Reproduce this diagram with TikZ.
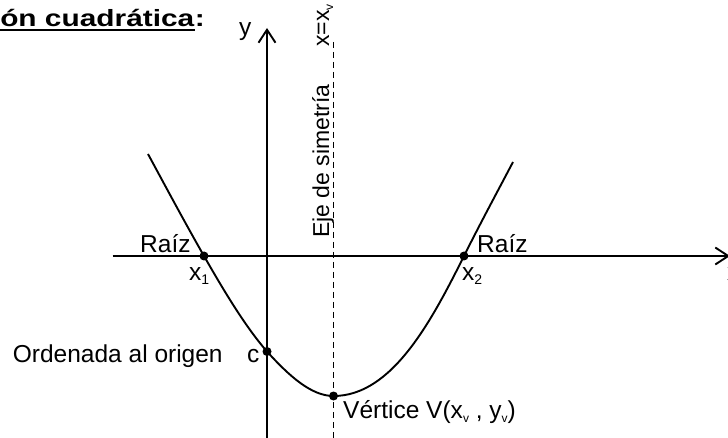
\documentclass[tikz,border=0pt]{standalone}
\usepackage{fontspec}
\setmainfont{Liberation Sans}
\usetikzlibrary{arrows.meta}
\newcommand{\subsc}[2][14]{\raisebox{-4pt}{\fontsize{#1}{#1}\selectfont #2}}
\begin{document}
\begin{tikzpicture}[x=1pt,y=-1pt,
  lbl/.style={inner sep=0pt, anchor=base west, font=\fontsize{24.5}{28}\selectfont},
  axisline/.style={line width=1.9pt, -{Straight Barb[length=13pt,width=17pt,line width=1.9pt]}},
  dot/.style={circle, fill=black, inner sep=0pt, minimum size=9pt},
  curveline/.style={line width=1.9pt},
  symline/.style={line width=1.5pt, dash pattern=on 6pt off 4pt},
]
\useasboundingbox (0,0) rectangle (728,438);

% title
\node[lbl, font=\bfseries\fontsize{23.5}{27}\selectfont, xscale=1.27] (title) at (0,26.5) {ón cuadrática};
\node[lbl, font=\bfseries\fontsize{23.5}{27}\selectfont, xscale=1.27] (colon) at (title.base east) {:};
\draw[line width=2.2pt] ([yshift=-3.2pt]title.base west) -- ([yshift=-3.2pt]title.base east);

% points of the parabola
\coordinate (p0) at (148,154);
\coordinate (p6) at (513,162);

% parabola
\draw[curveline] (p0)
  .. controls (166.7,188.6) and (185.3,223.3) .. (204,256)
  .. controls (225,292.8) and (246,327.4) .. (267,351.5)
  .. controls (289.2,376) and (311.3,396) .. (333.5,396)
  .. controls (392,396) and (431.4,321.2) .. (464,256)
  .. controls (480.3,223.3) and (496.7,193) .. (p6);

% axes
\coordinate (xl) at (112.7,256);
\coordinate (xr) at (730,256);
\draw[axisline] (xl) -- (xr);
\coordinate (yb) at (267,438);
\coordinate (yt) at (267,28);
\draw[axisline] (yb) -- (yt);

% symmetry axis
\coordinate (dt) at (333.5,42);
\coordinate (db) at (333.5,438);
\draw[symline] (dt) -- (db);

% dots
\node[dot] (r1) at (204,256) {};
\node[dot] (r2) at (464,256) {};
\node[dot] (cpt) at (267,351.5) {};
\node[dot] (vpt) at (333.5,396) {};

% labels
\node[lbl] (ylab) at (239,36) {y};
\node[lbl, rotate=90, font=\fontsize{23}{27}\selectfont] (eje) at (329,238) {Eje de simetría};
\node[lbl, rotate=90, font=\fontsize{23}{27}\selectfont] (xeq) at (329,47) {x=x\subsc[12]{v}};
\node[lbl] (raiz1) at (140,252.7) {Raíz};
\node[lbl] (x1lab) at (189,280) {x\subsc{1}};
\node[lbl] (raiz2) at (477,252.7) {Raíz};
\node[lbl] (x2lab) at (462,280) {x\subsc{2}};
\node[lbl] (ord) at (12.7,362.7) {Ordenada al origen};
\node[lbl] (clab) at (247,362.7) {c};
\node[lbl] (vert) at (343,418) {Vértice V(x\subsc[12]{v} , y\subsc[12]{v})};
\node[lbl] (xlab) at (727,280) {x};
\end{tikzpicture}
\end{document}
